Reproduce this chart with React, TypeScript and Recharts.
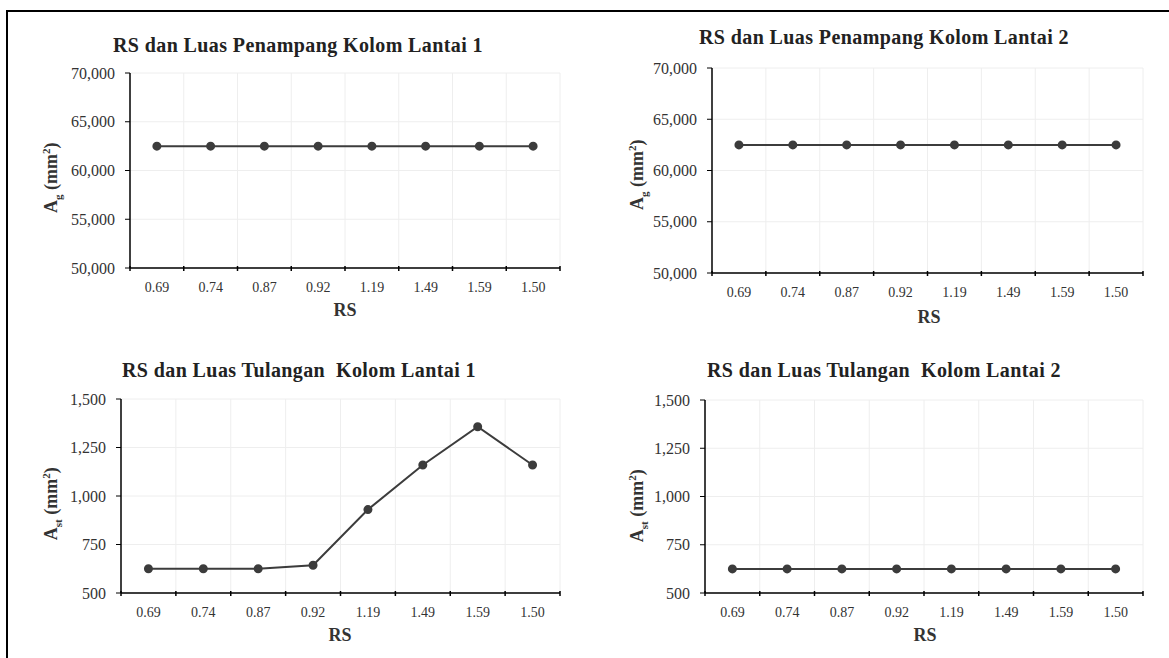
import React from 'react';
import { LineChart, Line, XAxis, YAxis, CartesianGrid } from 'recharts';

const rsLabels = ['0.69', '0.74', '0.87', '0.92', '1.19', '1.49', '1.59', '1.50'];
const grossLantai1 = [62500, 62500, 62500, 62500, 62500, 62500, 62500, 62500];
const grossLantai2 = [62500, 62500, 62500, 62500, 62500, 62500, 62500, 62500];
const steelLantai1 = [625, 625, 625, 643, 930, 1160, 1357, 1160];
const steelLantai2 = [625, 625, 625, 625, 625, 625, 625, 625];
const grossTicks = [50000, 55000, 60000, 65000, 70000];
const steelTicks = [500, 750, 1000, 1250, 1500];

const FONT = '"Liberation Serif", "Times New Roman", serif';
const INK = '#3c3c3c';
const PAD_L = 80, PAD_T = 10, PAD_R = 10, PAD_B = 40;

const fmt = (v: number) => v.toLocaleString('en-US');

interface PanelProps {
  x: number; y: number; w: number; h: number;
  title: string; titleX: number; titleY: number;
  labelX: number; labelY: number; sub: string;
  rsX: number; rsY: number;
  values: number[]; ticks: number[];
}

function XTick(props: any) {
  const { x, y, payload, index, band, count } = props;
  return (
    <g>
      <line x1={x - band / 2} x2={x - band / 2} y1={y - 2} y2={y + 3} stroke="#000" strokeWidth={1.5} />
      {index === count - 1 && <line x1={x + band / 2} x2={x + band / 2} y1={y - 2} y2={y + 3} stroke="#000" strokeWidth={1.5} />}
      <text x={x} y={y + 24} textAnchor="middle" fontSize={14} fontFamily={FONT} fill="#333">{payload.value}</text>
    </g>
  );
}

function Panel({ x, y, w, h, title, titleX, titleY, labelX, labelY, sub, rsX, rsY, values, ticks }: PanelProps) {
  const data = rsLabels.map((rs, i) => ({ rs, v: values[i] }));
  const band = w / rsLabels.length;
  return (
    <>
      <div style={{ position: 'absolute', left: titleX - 250, top: titleY - 13, width: 500, textAlign: 'center', fontWeight: 'bold', fontSize: 20, letterSpacing: 0.4, lineHeight: '26px', color: '#222', whiteSpace: 'pre' }}>{title}</div>
      <div style={{ position: 'absolute', left: labelX - 60, top: labelY - 12, width: 120, textAlign: 'center', fontWeight: 'bold', fontSize: 18, lineHeight: '24px', color: '#333', transform: 'rotate(-90deg)', whiteSpace: 'nowrap' }}>
        A<sub style={{ fontSize: 11 }}>{sub}</sub> (mm<sup style={{ fontSize: 11 }}>2</sup>)
      </div>
      <div style={{ position: 'absolute', left: rsX - 30, top: rsY - 11, width: 60, textAlign: 'center', fontWeight: 'bold', fontSize: 18, lineHeight: '22px', color: '#333' }}>RS</div>
      <div style={{ position: 'absolute', left: x - PAD_L, top: y - PAD_T }}>
        <LineChart width={w + PAD_L + PAD_R} height={h + PAD_T + PAD_B} data={data} margin={{ top: PAD_T, right: PAD_R, left: 0, bottom: 0 }}>
          <CartesianGrid stroke="#eeeeee" verticalCoordinatesGenerator={({ offset }: any) => rsLabels.map((_, i) => offset.left + (i + 1) * offset.width / rsLabels.length)} />
          <XAxis dataKey="rs" scale="band" height={PAD_B} axisLine={{ stroke: '#000', strokeWidth: 1.5 }} tickLine={false} tickSize={0} tickMargin={0} interval={0}
            tick={(p: any) => <XTick {...p} band={band} count={rsLabels.length} />} />
          <YAxis width={PAD_L} domain={[ticks[0], ticks[ticks.length - 1]]} ticks={ticks} tickFormatter={fmt} interval={0}
            axisLine={{ stroke: '#000', strokeWidth: 1.5 }} tickLine={{ stroke: '#000' }} tickSize={5} tickMargin={10}
            tick={{ fontSize: 16, fontFamily: FONT, fill: '#333' }} />
          <Line dataKey="v" stroke={INK} strokeWidth={2} dot={{ r: 3.5, fill: INK, stroke: INK }} isAnimationActive={false} />
        </LineChart>
      </div>
    </>
  );
}

export default function App() {
  return (
    <div style={{ position: 'absolute', left: 0, top: 0, width: 1169, height: 658, background: '#fff', fontFamily: FONT, overflow: 'hidden' }}>
      <div style={{ position: 'absolute', left: 6, top: 10, width: 1163, height: 2, background: '#000' }} />
      <div style={{ position: 'absolute', left: 6, top: 10, width: 2, height: 648, background: '#000' }} />
      <Panel x={130} y={73} w={430} h={195} title="RS dan Luas Penampang Kolom Lantai 1" titleX={298} titleY={45}
        labelX={52} labelY={172} sub="g" rsX={345} rsY={310} values={grossLantai1} ticks={grossTicks} />
      <Panel x={712} y={68} w={431} h={205} title="RS dan Luas Penampang Kolom Lantai 2" titleX={884} titleY={37}
        labelX={638} labelY={169} sub="g" rsX={929} rsY={317} values={grossLantai2} ticks={grossTicks} />
      <Panel x={121} y={399} w={439} h={194} title="RS dan Luas Tulangan  Kolom Lantai 1" titleX={299} titleY={370}
        labelX={52} labelY={498} sub="st" rsX={340} rsY={635} values={steelLantai1} ticks={steelTicks} />
      <Panel x={705} y={400} w={438} h={193} title="RS dan Luas Tulangan  Kolom Lantai 2" titleX={884} titleY={370}
        labelX={638} labelY={500} sub="st" rsX={925} rsY={635} values={steelLantai2} ticks={steelTicks} />
    </div>
  );
}
